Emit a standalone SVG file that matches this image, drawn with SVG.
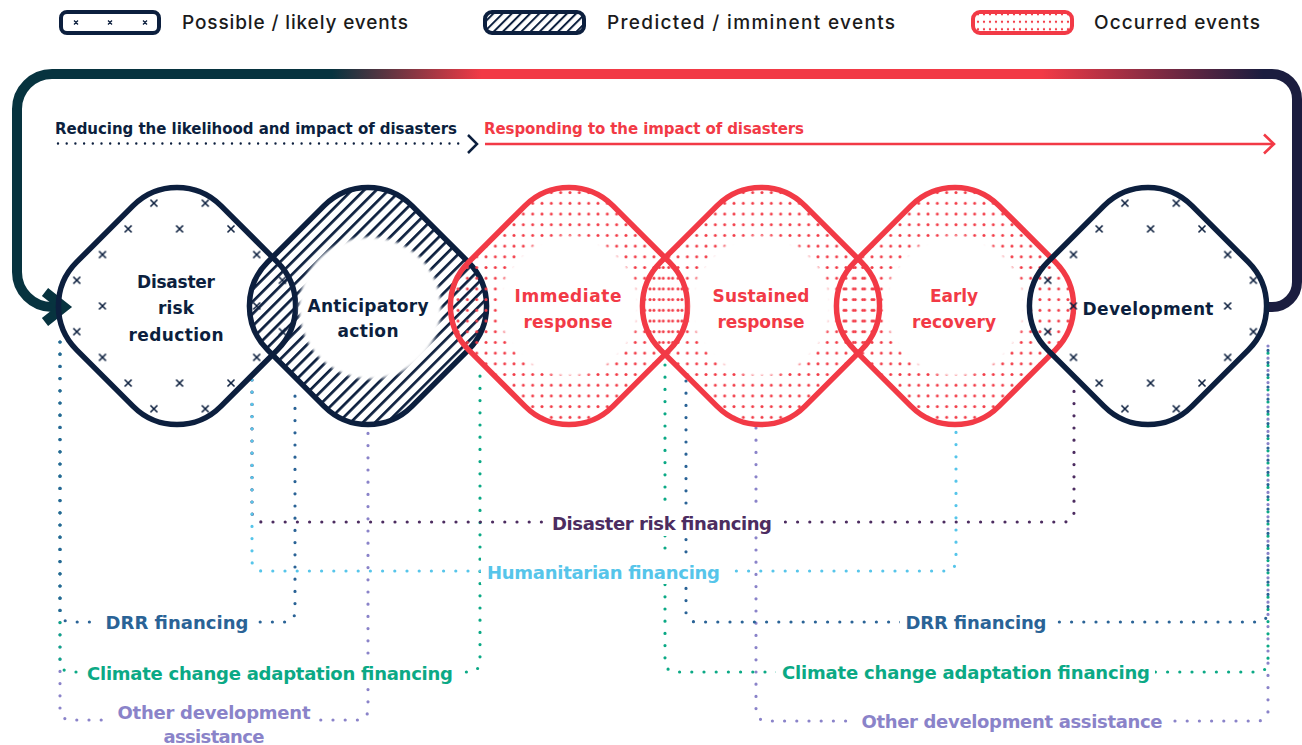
<svg xmlns="http://www.w3.org/2000/svg" width="1302" height="745" viewBox="0 0 1302 745">
<style>
.lbl{font-family:"DejaVu Sans","Liberation Sans",sans-serif;font-weight:700}
.navy{fill:#0c1f3e}
.red{fill:#f23a46}
.outline{fill:none;stroke-width:5.5}
.dot{fill:none;stroke-width:3.2;stroke-linecap:round;stroke-dasharray:0 12.2}
.leg{font-family:Inter,"DejaVu Sans",sans-serif;font-weight:500;font-size:19px;fill:#1b1b1b}
.node{font-size:17px;text-anchor:middle}
.fin{font-size:18px;text-anchor:middle}
.bg{fill:#fff}
</style>
<defs>
<path id="dia" d="M-43.84,-100.41 A62,62 0 0 1 43.84,-100.41 L100.41,-43.84 A62,62 0 0 1 100.41,43.84 L43.84,100.41 A62,62 0 0 1 -43.84,100.41 L-100.41,43.84 A62,62 0 0 1 -100.41,-43.84 Z"/>
<pattern id="pX" patternUnits="userSpaceOnUse" x="-10.25" y="-12.85" width="51.4" height="51.4">
<path d="M35.05,9.35 l7,7 m0,-7 l-7,7 M9.35,35.05 l7,7 m0,-7 l-7,7" stroke="#0c1f3e" stroke-width="1.6" fill="none"/>
</pattern>
<pattern id="pH" patternUnits="userSpaceOnUse" width="8.6" height="8.6" patternTransform="rotate(-45)">
<rect x="0" y="0" width="8.6" height="2.7" fill="#0c1f3e"/>
</pattern>
<pattern id="pD" patternUnits="userSpaceOnUse" x="-3.665" y="-1.05" width="9.33" height="10.7">
<circle cx="4.665" cy="5.35" r="1.5" fill="#f23a46"/>
</pattern>
<pattern id="pHl" patternUnits="userSpaceOnUse" width="6.5" height="6.5" patternTransform="rotate(-45)">
<rect x="0" y="0" width="6.5" height="2" fill="#0c1f3e"/>
</pattern>
<pattern id="pDl" patternUnits="userSpaceOnUse" x="975" y="10.5" width="6" height="7.5">
<circle cx="3" cy="3.75" r="1.15" fill="#f23a46"/>
</pattern>
<filter id="soft" x="-20%" y="-20%" width="140%" height="140%"><feGaussianBlur stdDeviation="1.5"/></filter>
<linearGradient id="loopGrad" gradientUnits="userSpaceOnUse" x1="0" y1="0" x2="1302" y2="0">
<stop offset="0" stop-color="#07333f"/>
<stop offset="0.255" stop-color="#07333f"/>
<stop offset="0.37" stop-color="#f23a46"/>
<stop offset="0.80" stop-color="#f23a46"/>
<stop offset="0.97" stop-color="#1b1d3f"/>
</linearGradient>
</defs>
<rect width="1302" height="745" fill="#fff"/>

<g id="legend">
<rect x="61" y="12" width="98" height="21" rx="6" fill="#fff" stroke="#0c1f3e" stroke-width="4"/>
<path d="M74,20.5 l4,4 m0,-4 l-4,4 M108,20.5 l4,4 m0,-4 l-4,4 M143,20.5 l4,4 m0,-4 l-4,4" stroke="#0c1f3e" stroke-width="1.3"/>
<text class="leg" x="182" y="28.5" textLength="226">Possible / likely events</text>
<rect x="485" y="12" width="99" height="21" rx="7" fill="url(#pHl)" stroke="#0c1f3e" stroke-width="4"/>
<text class="leg" x="607" y="28.5" textLength="288">Predicted / imminent events</text>
<rect x="973" y="12" width="99" height="21" rx="7" fill="url(#pDl)" stroke="#f23a46" stroke-width="4"/>
<text class="leg" x="1094" y="28.5" textLength="166">Occurred events</text>
</g>

<g id="phases">
<text class="lbl navy" font-size="15" x="55" y="134" textLength="402">Reducing the likelihood and impact of disasters</text>
<line x1="58" y1="143.5" x2="464" y2="143.5" stroke="#0c1f3e" stroke-width="2.4" stroke-linecap="round" stroke-dasharray="0 8.7"/>
<polyline points="468,135 477,144 468,153" fill="none" stroke="#0c1f3e" stroke-width="2.5"/>
<text class="lbl red" font-size="15" x="484" y="134" textLength="320">Responding to the impact of disasters</text>
<line x1="485" y1="144" x2="1273" y2="144" stroke="#f23a46" stroke-width="2.6"/>
<polyline points="1264,134.5 1274,144 1264,153.5" fill="none" stroke="#f23a46" stroke-width="2.6"/>
</g>

<g id="connectors">
<g id="loop">
<path d="M1266,307 H1272 A25,25 0 0 0 1297,282 V99 A25,25 0 0 0 1272,74 H52 A35,35 0 0 0 17,109 V272 A35,35 0 0 0 52,307 H62" fill="none" stroke="url(#loopGrad)" stroke-width="10"/>
<polyline points="45,292 64,307 45,322" fill="none" stroke="#07333f" stroke-width="10" stroke-linejoin="miter"/>
</g>
<path class="dot" stroke="#8a83c9" d="M60,342 V710 A10,10 0 0 0 70,720 H358 A10,10 0 0 0 368,710 V428"/>
<path class="dot" stroke="#0ba985" d="M60,342 V662 A10,10 0 0 0 70,672 H470 A10,10 0 0 0 480,662 V366"/>
<path class="dot" stroke="#2a6396" d="M60,342 V612 A10,10 0 0 0 70,622 H285 A10,10 0 0 0 295,612 V386"/>
<path class="dot" stroke="#4c2c60" d="M252,380 V512 A10,10 0 0 0 262,522 H1064 A10,10 0 0 0 1074,512 V386"/>
<path class="dot" stroke="#56c5ea" d="M252,380 V561 A10,10 0 0 0 262,571 H946 A10,10 0 0 0 956,561 V429"/>
<path class="dot" stroke="#8a83c9" d="M756,428 V711 A10,10 0 0 0 766,721 H1258 A10,10 0 0 0 1268,711 V342"/>
<path class="dot" stroke="#0ba985" d="M665,365 V662 A10,10 0 0 0 675,672 H1258 A10,10 0 0 0 1268,662 V342"/>
<path class="dot" stroke="#2a6396" d="M686,381 V612 A10,10 0 0 0 696,622 H1258 A10,10 0 0 0 1268,612 V342"/>
<rect class="bg" x="544" y="508" width="240" height="28"/>
<text class="lbl fin" fill="#4c2c60" x="662" y="530" textLength="220">Disaster risk financing</text>
<rect class="bg" x="481" y="557" width="249" height="27"/>
<text class="lbl fin" fill="#56c5ea" x="603.5" y="579" textLength="233">Humanitarian financing</text>
<rect class="bg" x="92" y="609" width="166" height="27"/>
<text class="lbl fin" fill="#2a6396" x="177" y="629" textLength="143">DRR financing</text>
<rect class="bg" x="900" y="609" width="154" height="27"/>
<text class="lbl fin" fill="#2a6396" x="976" y="629" textLength="141">DRR financing</text>
<rect class="bg" x="80" y="659" width="380" height="29"/>
<text class="lbl fin" fill="#0ba985" x="270" y="680" textLength="366">Climate change adaptation financing</text>
<rect class="bg" x="776" y="659" width="379" height="28"/>
<text class="lbl fin" fill="#0ba985" x="966" y="679" textLength="368">Climate change adaptation financing</text>
<rect class="bg" x="104" y="700" width="214" height="45"/>
<text class="lbl fin" fill="#8a83c9" x="214" y="718.5" textLength="193">Other development</text>
<text class="lbl fin" fill="#8a83c9" x="214" y="743" textLength="101">assistance</text>
<rect class="bg" x="852" y="708" width="318" height="27"/>
<text class="lbl fin" fill="#8a83c9" x="1012" y="728" textLength="301">Other development assistance</text>
</g>

<g id="node-drr" transform="translate(177,306)">
<use href="#dia" fill="url(#pX)"/>
<circle r="70" fill="#fff" filter="url(#soft)"/>
<use href="#dia" class="outline" stroke="#0c1f3e"/>
<text class="lbl node navy" x="-1" y="-18" textLength="78">Disaster</text>
<text class="lbl node navy" x="-1" y="8" textLength="36">risk</text>
<text class="lbl node navy" x="-1" y="35" textLength="95">reduction</text>
</g>

<g id="node-anticipatory" transform="translate(368,306)">
<use href="#dia" fill="url(#pH)"/>
<circle cx="2" cy="2" r="71" fill="#fff" filter="url(#soft)"/>
<use href="#dia" class="outline" stroke="#0c1f3e"/>
<text class="lbl node navy" x="0" y="6" textLength="121">Anticipatory</text>
<text class="lbl node navy" x="0" y="31" textLength="61">action</text>
</g>

<g id="node-immediate" transform="translate(569,306)">
<use href="#dia" fill="url(#pD)"/>
<circle r="70" fill="#fff" filter="url(#soft)"/>
<use href="#dia" class="outline" stroke="#f23a46"/>
<text class="lbl node red" x="-1" y="-4" textLength="107">Immediate</text>
<text class="lbl node red" x="-1" y="22" textLength="89">response</text>
</g>

<g id="node-sustained" transform="translate(761,306)">
<use href="#dia" fill="url(#pD)"/>
<circle r="70" fill="#fff" filter="url(#soft)"/>
<use href="#dia" class="outline" stroke="#f23a46"/>
<text class="lbl node red" x="0" y="-4" textLength="97">Sustained</text>
<text class="lbl node red" x="0" y="22" textLength="87">response</text>
</g>

<g id="node-early" transform="translate(955,306)">
<use href="#dia" fill="url(#pD)"/>
<circle r="70" fill="#fff" filter="url(#soft)"/>
<use href="#dia" class="outline" stroke="#f23a46"/>
<text class="lbl node red" x="-1" y="-4" textLength="48">Early</text>
<text class="lbl node red" x="-1" y="22" textLength="84">recovery</text>
</g>

<g id="node-development" transform="translate(1148,306)">
<use href="#dia" fill="url(#pX)"/>
<circle r="70" fill="#fff" filter="url(#soft)"/>
<use href="#dia" class="outline" stroke="#0c1f3e"/>
<text class="lbl node navy" x="0" y="9" textLength="131">Development</text>
</g>
</svg>
